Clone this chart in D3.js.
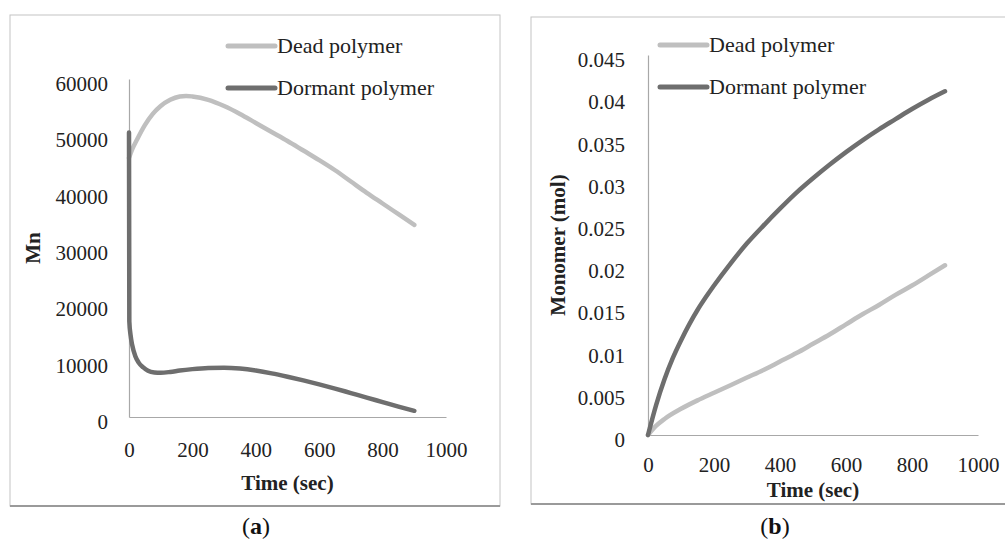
<!DOCTYPE html>
<html><head><meta charset="utf-8">
<script src="https://cdn.jsdelivr.net/npm/d3@7"></script>
<style>body{margin:0;background:#fff}svg{display:block}</style>
</head><body>
<svg id="c" width="1005" height="540"></svg>
<script>
// ---- Data ----
const seriesNames = ["Dead polymer", "Dormant polymer"];
// Panel (a): Mn vs time
const deadA_t = [0,10,25,50,75,100,130,160,180,200,250,300,350,400,450,500,550,600,650,700,750,800,850,900];
const deadA_v = [46000,47500,49200,51800,53800,55200,56300,56900,57000,56900,56300,55200,53800,52200,50600,49000,47300,45600,43800,41800,39800,37900,36000,34100];
const dormA_t = [0,1,5,10,20,30,45,60,80,100,130,160,200,250,300,350,400,450,500,550,600,650,700,750,800,850,900];
const dormA_v = [50500,17000,14500,12800,10800,9700,8800,8200,7900,7850,8000,8250,8500,8700,8750,8600,8250,7750,7150,6500,5800,5050,4250,3450,2650,1850,1100];
const yTicksA = [0,10000,20000,30000,40000,50000,60000];
const xTicks = [0,200,400,600,800,1000];
// Panel (b): Monomer (mol) vs time
const deadB_t = [0,25,50,100,150,200,250,300,350,400,450,500,550,600,650,700,750,800,850,900];
const deadB_v = [0,0.0011,0.0019,0.0031,0.0041,0.0050,0.0059,0.0068,0.0077,0.0087,0.0097,0.0108,0.0119,0.0131,0.0143,0.0154,0.0166,0.0177,0.0189,0.0201];
const dormB_t = [0,25,50,75,100,125,150,175,200,250,300,350,400,450,500,550,600,650,700,750,800,850,900];
const dormB_v = [0,0.0036,0.0066,0.0091,0.0112,0.0131,0.0148,0.0163,0.0177,0.0203,0.0227,0.0248,0.0268,0.0287,0.0304,0.0320,0.0335,0.0349,0.0362,0.0374,0.0386,0.0397,0.0407];
const yTicksB = [0,0.005,0.01,0.015,0.02,0.025,0.03,0.035,0.04,0.045];

const colors = ["#bfbfbf", "#6e6e6e"];
const FONT = "'Liberation Serif','Times New Roman',serif";

const svg = d3.select("#c");
svg.append("rect").attr("width",1005).attr("height",540).attr("fill","#fff");

function zip(t,v){ return t.map((d,i)=>[d,v[i]]); }

function panel(o){
  const g = svg.append("g");
  // frame
  g.append("rect").attr("x",o.frame[0]).attr("y",o.frame[1]).attr("width",o.frame[2]).attr("height",o.frame[3])
    .attr("fill","none").attr("stroke","#c4c4c4").attr("stroke-width",1);
  g.append("line").attr("x1",o.frame[0]).attr("x2",o.frame[0]+o.frame[2])
    .attr("y1",o.frame[1]+o.frame[3]).attr("y2",o.frame[1]+o.frame[3])
    .attr("stroke","#9a9a9a").attr("stroke-width",2);

  const x = d3.scaleLinear().domain([0,1000]).range(o.xr);
  const y = d3.scaleLinear().domain(o.yd).range(o.yr);

  const ya = g.append("g").attr("transform",`translate(${o.xr[0]},0)`)
    .call(d3.axisLeft(y).tickValues(o.yTicks).tickSize(0).tickPadding(o.yPad).tickFormat(o.fmt));
  const xa = g.append("g").attr("transform",`translate(0,${o.yr[0]})`)
    .call(d3.axisBottom(x).tickValues(xTicks).tickSize(0).tickPadding(o.xPad).tickFormat(d3.format("d")));
  [ya,xa].forEach(a=>{
    a.select(".domain").attr("stroke","#a8a8a8").attr("stroke-width",1.2);
    a.selectAll("text").attr("font-family",FONT).attr("font-size",21).attr("fill","#222");
  });
  ya.selectAll("text").attr("dy","0.55em");

  const line = d3.line().x(d=>x(d[0])).y(d=>y(d[1])).curve(d3.curveMonotoneX);
  o.series.forEach((s,i)=>{
    g.append("path").attr("d",line(s)).attr("fill","none").attr("stroke",colors[i])
      .attr("stroke-width",4.5).attr("stroke-linecap","round").attr("stroke-linejoin","round");
  });

  // legend
  seriesNames.forEach((n,i)=>{
    const ly = o.leg[1] + i*42;
    g.append("line").attr("x1",o.leg[0]).attr("x2",o.leg[0]+47).attr("y1",ly).attr("y2",ly)
      .attr("stroke",colors[i]).attr("stroke-width",5).attr("stroke-linecap","round");
    g.append("text").attr("x",o.leg[0]+49).attr("y",ly).attr("dy","0.33em")
      .attr("font-family",FONT).attr("font-size",22).attr("fill","#222").text(n);
  });

  // axis titles
  g.append("text").attr("x",(o.xr[0]+o.xr[1])/2).attr("y",o.xTitleY).attr("text-anchor","middle")
    .attr("dy","0.35em").attr("font-family",FONT).attr("font-weight","bold").attr("font-size",21)
    .attr("fill","#222").text("Time (sec)");
  g.append("text").attr("transform",`translate(${o.yTitleX},${(o.yr[0]+o.yr[1])/2}) rotate(-90)`)
    .attr("text-anchor","middle").attr("dy","0.35em").attr("font-family",FONT).attr("font-weight","bold")
    .attr("font-size",21).attr("fill","#222").text(o.yTitle);

  // panel label
  const pl = g.append("text").attr("x",o.label[0]).attr("y",o.label[1]).attr("text-anchor","middle")
    .attr("dy","0.35em").attr("font-family",FONT).attr("font-size",24).attr("fill","#111");
  pl.append("tspan").text("(");
  pl.append("tspan").attr("font-weight","bold").text(o.letter);
  pl.append("tspan").text(")");
}

panel({
  frame:[10,15,490,491], xr:[129,446], yd:[0,60000], yr:[417,79], yTicks:yTicksA,
  fmt:d3.format("d"), yPad:21, xPad:25,
  series:[zip(deadA_t,deadA_v), zip(dormA_t,dormA_v)],
  leg:[228,46], xTitleY:483, yTitleX:33, yTitle:"Mn", label:[256,526], letter:"a"
});
panel({
  frame:[531,17,480,487], xr:[648,978], yd:[0,0.045], yr:[435,55], yTicks:yTicksB,
  fmt:d=>String(+d.toFixed(3)), yPad:23, xPad:22,
  series:[zip(deadB_t,deadB_v), zip(dormB_t,dormB_v)],
  leg:[660,45], xTitleY:490, yTitleX:558, yTitle:"Monomer (mol)", label:[775,526], letter:"b"
});
</script>
</body></html>
